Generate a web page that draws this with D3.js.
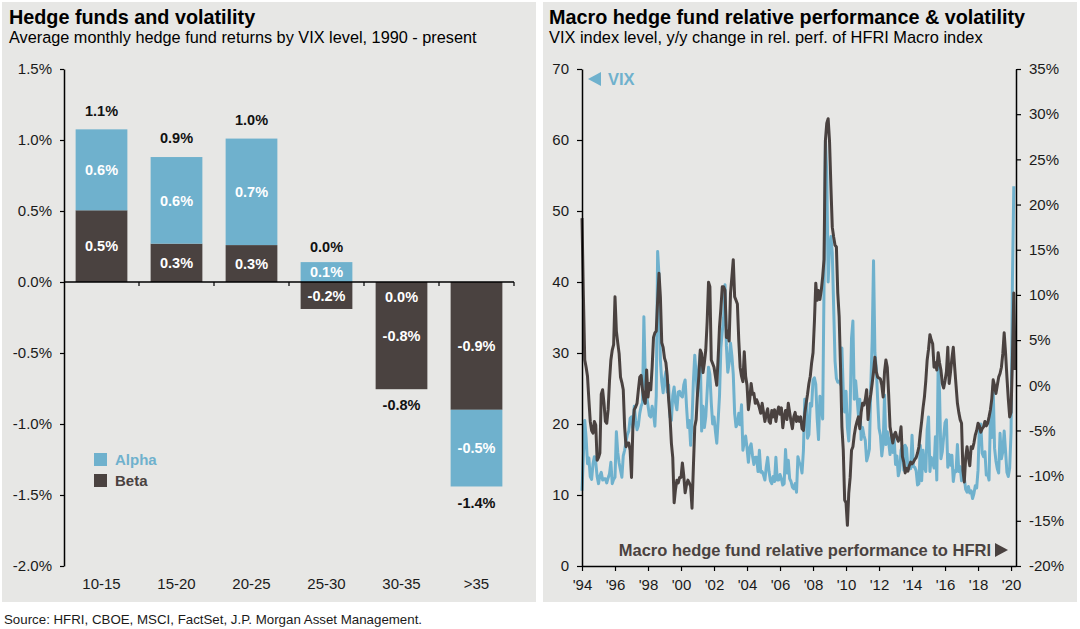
<!DOCTYPE html>
<html><head><meta charset="utf-8">
<script src="https://cdn.jsdelivr.net/npm/d3@7"></script>
<style>
body{margin:0;background:#fff;}
svg{display:block;font-family:"Liberation Sans",Arial,Helvetica,sans-serif;}
</style>
</head><body>
<svg id="c" width="1080" height="629"></svg>
<script>
// ---------- Left chart data ----------
const categories = ["10-15", "15-20", "20-25", "25-30", "30-35", ">35"];
const alphaValues = [0.57, 0.61, 0.75, 0.14, 0.0, -0.54];
const betaValues = [0.505, 0.27, 0.26, -0.19, -0.755, -0.90];
const alphaLabels = ["0.6%", "0.6%", "0.7%", "0.1%", "0.0%", "-0.5%"];
const betaLabels = ["0.5%", "0.3%", "0.3%", "-0.2%", "-0.8%", "-0.9%"];
const totalLabels = ["1.1%", "0.9%", "1.0%", "0.0%", "-0.8%", "-1.4%"];
const leftYTicks = [-2.0, -1.5, -1.0, -0.5, 0.0, 0.5, 1.0, 1.5];

// ---------- Right chart data (monthly, starting Jan 1994) ----------
const startYear = 1994;
const vixMonthly = [
  10.6, 15.5, 20.5, 18.0, 14.4, 15.2, 12.6, 12.2, 14.4, 15.4, 14.6, 12.6, // 1994
  11.6, 12.7, 13.2, 12.1, 12.3, 12.3, 11.7, 12.4, 13.0, 14.6, 11.6, 12.2, // 1995
  12.5, 18.9, 16.0, 14.5, 13.5, 12.5, 15.5, 16.3, 17.5, 18.5, 19.0, 20.8, // 1996
  21.0, 19.5, 22.5, 20.5, 19.2, 19.8, 21.5, 22.5, 23.0, 35.1, 26.5, 24.0, // 1997
  22.6, 21.2, 21.0, 22.5, 21.5, 19.7, 24.0, 44.3, 40.9, 29.0, 26.0, 24.4, // 1998
  26.3, 27.4, 24.5, 25.5, 21.0, 20.5, 24.0, 25.2, 23.0, 22.0, 24.5, 24.6, // 1999
  24.0, 23.8, 25.5, 26.2, 22.5, 19.5, 20.5, 17.0, 20.5, 26.0, 29.7, 26.9, // 2000
  24.0, 28.0, 30.0, 19.0, 22.5, 19.5, 21.0, 24.5, 28.0, 27.0, 23.0, 20.0, // 2001
  21.0, 19.0, 17.3, 20.5, 24.0, 30.8, 33.0, 35.0, 39.6, 31.0, 27.3, 28.6, // 2002
  31.4, 29.6, 27.0, 21.5, 19.6, 20.0, 21.5, 19.9, 22.7, 16.3, 17.5, 18.3, // 2003
  16.6, 14.6, 16.7, 17.2, 15.5, 14.3, 15.3, 15.3, 13.3, 16.3, 13.2, 13.3, // 2004
  12.8, 12.1, 14.0, 15.3, 13.3, 12.0, 11.6, 12.6, 11.9, 15.3, 12.1, 12.1, // 2005
  12.9, 12.3, 11.4, 11.6, 16.4, 13.1, 14.9, 12.3, 11.9, 11.1, 10.9, 11.6, // 2006
  10.4, 15.4, 14.6, 14.2, 13.1, 16.2, 23.5, 23.4, 18.0, 18.5, 22.9, 22.5, // 2007
  26.2, 26.5, 25.6, 20.8, 17.8, 23.9, 22.9, 20.7, 39.4, 59.9, 55.3, 40.0, // 2008
  44.8, 46.4, 44.1, 36.5, 28.9, 26.4, 25.9, 26.0, 25.6, 30.7, 24.5, 21.7, // 2009
  24.6, 19.5, 17.6, 22.1, 32.1, 34.5, 23.5, 26.1, 23.7, 21.2, 23.5, 17.8, // 2010
  19.5, 18.4, 17.7, 14.8, 15.5, 16.5, 25.3, 31.6, 43.0, 30.0, 27.8, 23.4, // 2011
  19.4, 18.4, 15.5, 17.2, 24.1, 17.1, 18.9, 17.5, 15.7, 18.6, 16.0, 18.0, // 2012
  14.3, 15.5, 12.7, 13.5, 16.3, 16.9, 13.5, 17.0, 16.6, 13.8, 13.7, 13.7, // 2013
  18.4, 14.0, 13.9, 13.4, 11.4, 11.6, 17.0, 12.0, 16.3, 14.0, 13.3, 19.2, // 2014
  21.0, 13.3, 15.3, 14.6, 13.8, 18.2, 12.1, 28.4, 24.5, 15.1, 16.1, 18.2, // 2015
  20.2, 20.6, 13.9, 15.7, 14.2, 15.6, 11.9, 13.4, 13.3, 17.1, 13.3, 14.0, // 2016
  12.0, 12.9, 12.4, 10.8, 10.4, 11.2, 10.3, 10.6, 9.5, 10.2, 11.3, 11.0,  // 2017
  13.5, 19.9, 20.0, 15.9, 15.4, 16.1, 12.8, 12.9, 12.1, 21.2, 18.1, 25.4, // 2018
  16.6, 14.8, 13.7, 13.1, 18.7, 15.1, 16.1, 19.0, 16.2, 13.2, 12.6, 13.8, // 2019
  18.8, 40.1, 53.5                                                          // 2020
];
const relPerfMonthly = [
  18.5, 10.0, 2.8, 2.0, 1.0, -1.6, -4.0, -5.0, -5.3, -4.0, -4.4, -8.3,     // 1994
  -8.0, -7.5, -1.0, -0.5, -2.0, -4.0, -4.2, -2.7, 0.5, 2.8, 3.9, 4.5,      // 1995
  9.8, 6.0, 4.7, 3.5, 0.9, 0.3, -0.5, -4.6, -6.8, -6.4, -6.4, -7.2,        // 1996
  -10.2, -4.6, -2.7, -2.4, -2.0, -0.5, 0.9, 1.1, -0.5, -1.6, -2.0, 1.7,    // 1997
  -1.3, 0.2, -0.5, 2.0, 5.3, 5.8, 6.0, 9.4, 12.4, 9.8, 4.7, 4.2,           // 1998
  3.0, 2.5, 1.0, -1.6, -3.5, -6.4, -8.0, -13.0, -11.5, -10.5, -10.8, -10.2, // 1999
  -10.2, -8.6, -10.0, -11.9, -11.0, -10.5, -10.8, -11.2, -13.6, -9.0, -4.6, -3.8, // 2000
  -0.9, 1.0, 3.9, 3.5, 1.4, 2.5, 3.9, 7.0, 11.4, 10.9, 2.8, 2.4,           // 2001
  2.0, 1.0, 0.0, 3.0, 6.5, 8.5, 10.9, 10.9, 10.5, 5.3, 6.0, 4.9,           // 2002
  10.2, 12.0, 13.9, 9.8, 9.4, 9.0, 5.0, 2.0, 1.0, 0.4, 3.7, 1.0,           // 2003
  0.0, -2.7, -1.5, 0.2, -1.0, -0.9, -2.0, -1.6, -2.0, -2.5, -3.1, -2.0,    // 2004
  -3.0, -4.0, -3.2, -2.6, -4.0, -4.2, -2.8, -3.5, -2.7, -4.0, -3.0, -2.4,  // 2005
  -3.2, -2.5, -4.7, -3.5, -2.8, -3.8, -2.0, -3.0, -4.0, -4.8, -3.5, -3.0,  // 2006
  -4.0, -3.5, -4.0, -3.5, -4.8, -5.0, -3.1, -2.0, -1.0, 0.2, 1.0, 2.5,     // 2007
  3.6, 7.0, 11.3, 9.4, 10.5, 9.5, 10.5, 12.0, 13.9, 27.1, 29.0, 29.5,      // 2008
  27.0, 22.0, 17.5, 16.4, 15.5, 15.3, 10.2, 7.6, 2.0, -4.6, -7.2, -12.7,   // 2009
  -13.0, -15.5, -11.9, -10.2, -7.2, -6.8, -5.5, -4.6, -4.0, -3.5, -4.8, -3.0, // 2010
  -2.0, -2.2, -1.6, -0.5, -3.8, -2.0, -1.0, 0.2, 1.5, 3.1, 1.5, 0.9,       // 2011
  0.8, 0.7, 0.0, -1.3, 1.5, 2.8, 2.0, -1.0, -4.6, -5.5, -6.4, -5.5,        // 2012
  -5.2, -5.8, -6.2, -5.8, -4.6, -7.9, -8.5, -9.7, -9.2, -9.5, -8.9, -8.5,  // 2013
  -8.7, -8.5, -8.2, -8.0, -7.5, -6.8, -5.3, -4.0, -2.5, -1.3, 0.5, 2.8,    // 2014
  4.0, 5.6, 5.0, 4.6, 2.0, 2.5, 1.7, 3.6, 2.5, 1.7, 0.2, -0.3,             // 2015
  0.5, 1.5, 4.2, 0.2, 1.5, 3.0, 4.2, 2.0, 0.0, -2.0, -3.0, -3.8,           // 2016
  -4.2, -9.4, -10.7, -8.0, -6.8, -8.0, -8.9, -6.8, -7.0, -6.4, -5.5, -5.0, // 2017
  -4.2, -4.5, -5.2, -4.8, -4.6, -4.0, -4.5, -4.2, -3.5, -2.7, -1.5, 0.6,   // 2018
  0.0, -0.9, 0.0, 0.9, 1.3, 2.0, 3.5, 5.8, 3.6, 0.9, -1.5, -3.5,           // 2019
  -3.0, 3.0, 10.2, 1.7                                                      // 2020
];
const vixTicks = [0, 10, 20, 30, 40, 50, 60, 70];
const relTicks = [-20, -15, -10, -5, 0, 5, 10, 15, 20, 25, 30, 35];
const yearTicks = [1994, 1996, 1998, 2000, 2002, 2004, 2006, 2008, 2010, 2012, 2014, 2016, 2018, 2020];

// ---------- Styles ----------
const BG = "#e7e7e5";
const ALPHA_C = "#6fb1cd";
const BETA_C = "#4a4240";
const TXT = "#1a1a1a";
const TICK_FS = 15;
const BAR_FS = 14.5;

const svg = d3.select("#c");
svg.append("rect").attr("x", 0).attr("y", 0).attr("width", 1080).attr("height", 629).attr("fill", "#fff");
svg.append("rect").attr("x", 2).attr("y", 2).attr("width", 534).attr("height", 600).attr("fill", BG);
svg.append("rect").attr("x", 543).attr("y", 2).attr("width", 534).attr("height", 600).attr("fill", BG);

// Titles
function title(x, t, s, tfs, sfs) {
  svg.append("text").attr("x", x).attr("y", 24).attr("font-size", tfs).attr("font-weight", "bold").attr("fill", "#000").text(t);
  svg.append("text").attr("x", x).attr("y", 43).attr("font-size", sfs).attr("fill", "#000").text(s);
}
title(9, "Hedge funds and volatility", "Average monthly hedge fund returns by VIX level, 1990 - present", 19.8, 16.3);
title(549, "Macro hedge fund relative performance & volatility", "VIX index level, y/y change in rel. perf. of HFRI Macro index", 19.8, 16.4);

svg.append("text").attr("x", 4).attr("y", 624).attr("font-size", 13.3).attr("fill", TXT)
  .text("Source: HFRI, CBOE, MSCI, FactSet, J.P. Morgan Asset Management.");

// ---------- Left chart ----------
const yL = d3.scaleLinear().domain([-2, 1.5]).range([566, 69]);
const xL = d3.scaleBand().domain(categories).range([64, 514]).paddingInner(0.31).paddingOuter(0.155);
const bw = xL.bandwidth();

const rows = categories.map((c, i) => ({ cat: c, beta: betaValues[i], alpha: alphaValues[i] }));
const stacked = d3.stack().keys(["beta", "alpha"]).offset(d3.stackOffsetDiverging)(rows);
const colors = { beta: BETA_C, alpha: ALPHA_C };
const gL = svg.append("g");

stacked.forEach(s => {
  gL.selectAll(null).data(s).enter().append("rect")
    .attr("x", d => xL(d.data.cat))
    .attr("width", bw)
    .attr("y", d => yL(Math.max(d[0], d[1])))
    .attr("height", d => Math.abs(yL(d[0]) - yL(d[1])))
    .attr("fill", colors[s.key]);
});

// Y axis
const axL = gL.append("g").attr("transform", "translate(64,0)")
  .call(d3.axisLeft(yL).tickValues(leftYTicks).tickSize(4).tickSizeOuter(0).tickPadding(8).tickFormat(d => d.toFixed(1) + "%"));
axL.select(".domain").attr("stroke", "#000").attr("stroke-width", 1.5);
axL.selectAll(".tick line").attr("stroke", "#000").attr("stroke-width", 1.2);
axL.selectAll(".tick text").attr("font-size", TICK_FS).attr("fill", TXT).attr("font-family", null);

// X axis (zero line with ticks at band boundaries)
gL.append("line").attr("x1", 64).attr("x2", 514).attr("y1", yL(0)).attr("y2", yL(0)).attr("stroke", "#000").attr("stroke-width", 1.5);
const step = xL.step();
categories.forEach(c => {
  const bx = xL(c) + bw + step * xL.paddingInner() / 2;
  gL.append("line").attr("x1", bx).attr("x2", bx).attr("y1", yL(0)).attr("y2", yL(0) + 4).attr("stroke", "#000").attr("stroke-width", 1.2);
});
gL.selectAll(".cat").data(categories).enter().append("text")
  .attr("x", d => xL(d) + bw / 2).attr("y", 589).attr("text-anchor", "middle")
  .attr("font-size", TICK_FS).attr("fill", TXT).text(d => d);

// Bar labels
const segOf = key => stacked.find(s => s.key === key);
function segLabel(key, labels) {
  const s = segOf(key);
  s.forEach((d, i) => {
    let ymid = (yL(d[0]) + yL(d[1])) / 2;
    if (d[0] === d[1]) {
      const tot = alphaValues[i] + betaValues[i];
      ymid = yL(0) + (tot < 0 ? 15 : -15);
    }
    gL.append("text").attr("x", xL(d.data.cat) + bw / 2).attr("y", ymid).attr("dy", "0.36em")
      .attr("text-anchor", "middle").attr("font-size", BAR_FS).attr("font-weight", "bold")
      .attr("fill", "#fff").text(labels[i]);
  });
}
segLabel("alpha", alphaLabels);
segLabel("beta", betaLabels);

categories.forEach((c, i) => {
  const pos = Math.max(0, alphaValues[i]) + Math.max(0, betaValues[i]);
  const neg = Math.min(0, alphaValues[i]) + Math.min(0, betaValues[i]);
  const tot = alphaValues[i] + betaValues[i];
  let y;
  if (i === 3) y = yL(pos) - 15;
  else if (tot >= 0) y = yL(pos) - 19;
  else y = yL(neg) + 16;
  gL.append("text").attr("x", xL(c) + bw / 2).attr("y", y).attr("dy", "0.36em")
    .attr("text-anchor", "middle").attr("font-size", BAR_FS).attr("font-weight", "bold")
    .attr("fill", "#111").text(totalLabels[i]);
});

// Legend
gL.append("rect").attr("x", 94).attr("y", 453).attr("width", 13).attr("height", 13).attr("fill", ALPHA_C);
gL.append("text").attr("x", 115).attr("y", 465).attr("font-size", 15).attr("font-weight", "bold").attr("fill", ALPHA_C).text("Alpha");
gL.append("rect").attr("x", 94).attr("y", 474).attr("width", 13).attr("height", 13).attr("fill", BETA_C);
gL.append("text").attr("x", 115).attr("y", 486).attr("font-size", 15).attr("font-weight", "bold").attr("fill", BETA_C).text("Beta");

// ---------- Right chart ----------
const xR = d3.scaleLinear().domain([1994, 2020.3]).range([582, 1016]);
const yV = d3.scaleLinear().domain([0, 70]).range([566, 69]);
const yP = d3.scaleLinear().domain([-20, 35]).range([566, 69]);
const gR = svg.append("g");

const lineV = d3.line().x((d, i) => xR(startYear + i / 12)).y(d => yV(d));
const lineP = d3.line().x((d, i) => xR(startYear + i / 12)).y(d => yP(d));

gR.append("path").datum(vixMonthly).attr("d", lineV).attr("fill", "none")
  .attr("stroke", ALPHA_C).attr("stroke-width", 3).attr("stroke-linejoin", "round");
gR.append("path").datum(relPerfMonthly).attr("d", lineP).attr("fill", "none")
  .attr("stroke", BETA_C).attr("stroke-width", 3).attr("stroke-linejoin", "round");

const axV = gR.append("g").attr("transform", "translate(582,0)")
  .call(d3.axisLeft(yV).tickValues(vixTicks).tickSize(5).tickSizeOuter(0).tickPadding(8));
const axP = gR.append("g").attr("transform", "translate(1016,0)")
  .call(d3.axisRight(yP).tickValues(relTicks).tickSize(5).tickSizeOuter(0).tickPadding(8).tickFormat(d => d + "%"));
const axX = gR.append("g").attr("transform", "translate(0,566)")
  .call(d3.axisBottom(xR).tickValues(yearTicks).tickSize(5).tickSizeOuter(0).tickPadding(8)
    .tickFormat(d => "'" + String(d).slice(2)));
[axV, axP, axX].forEach(a => {
  a.select(".domain").attr("stroke", "#000").attr("stroke-width", 1.5);
  a.selectAll(".tick line").attr("stroke", "#000").attr("stroke-width", 1.2);
  a.selectAll(".tick text").attr("font-size", TICK_FS).attr("fill", TXT).attr("font-family", null);
});

// VIX label
gR.append("path").attr("d", "M588,79 L601,72 L601,86 Z").attr("fill", ALPHA_C);
gR.append("text").attr("x", 608).attr("y", 85).attr("font-size", 16.5).attr("font-weight", "bold").attr("fill", ALPHA_C).text("VIX");

// Bottom label
gR.append("text").attr("x", 991).attr("y", 556).attr("text-anchor", "end").attr("font-size", 16.5)
  .attr("font-weight", "bold").attr("fill", BETA_C).text("Macro hedge fund relative performance to HFRI");
gR.append("path").attr("d", "M995,543 L1008,550 L995,557 Z").attr("fill", BETA_C);
</script>
</body></html>
